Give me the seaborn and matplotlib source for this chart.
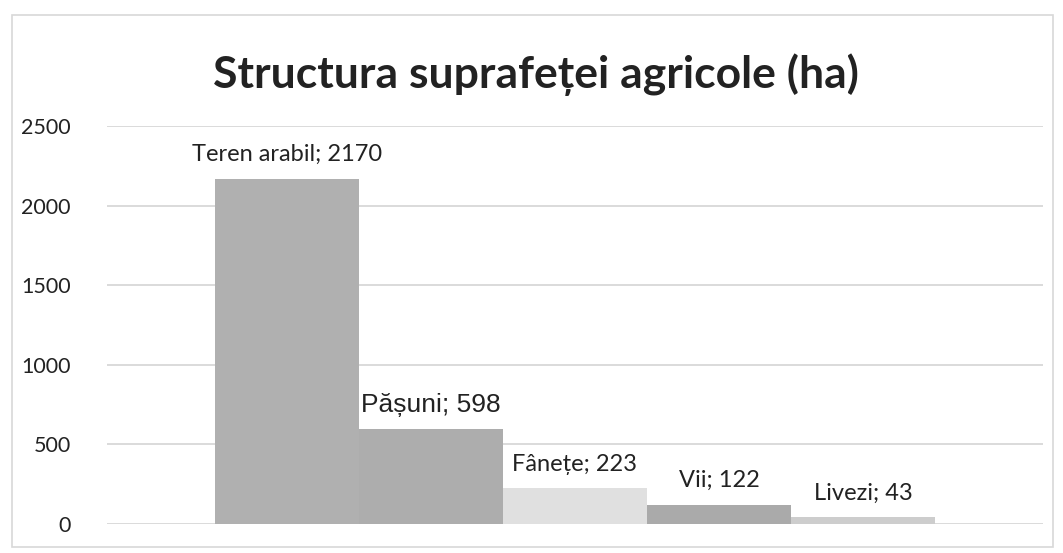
import numpy as np
import pandas as pd
import seaborn as sns
import matplotlib.pyplot as plt
from matplotlib.patches import Rectangle

# data
categories = ['Teren arabil', 'Pășuni', 'Fânețe', 'Vii', 'Livezi']
values = [2170, 598, 223, 122, 43]
bar_colors = ['#b0b0b0', '#adadad', '#e0e0e0', '#aaaaaa', '#cdcdcd']
yticks = [0, 500, 1000, 1500, 2000, 2500]

sns.set_style('white')
plt.rcParams['font.family'] = ['Lato', 'DejaVu Sans']

df = pd.DataFrame({'cat': categories, 'val': values})

fig = plt.figure(figsize=(10.63, 5.53), dpi=100)
ax = fig.add_axes([107/1063, 1-524/553, (1043-107)/1063, (524-126)/553])

sns.barplot(data=df, x='cat', y='val', hue='cat', palette=bar_colors,
            width=1.0, legend=False, ax=ax, saturation=1, zorder=3,
            linewidth=0)

ax.set_xlim(-1.25, 5.25)
ax.set_ylim(0, 2500)
ax.set_yticks(yticks)
ax.set_yticklabels([str(t) for t in yticks], fontsize=15.5, color='#222222')
ax.tick_params(axis='y', length=0, pad=26)
ax.set_xticks([])
ax.set_xlabel('')
ax.set_ylabel('')
ax.yaxis.grid(True, color='#d4d4d4', linewidth=1.2, zorder=0)
ax.set_axisbelow(True)
for s in ax.spines.values():
    s.set_visible(False)

# data labels "name; value"
for i, (c, v) in enumerate(zip(categories, values)):
    if c == 'Pășuni':
        fam, fs = ['Liberation Sans'], 19
    else:
        fam, fs = ['Lato', 'DejaVu Sans'], 17
    ax.annotate(f'{c}; {v}', xy=(i, v), xytext=(0, 24), textcoords='offset pixels',
                ha='center', va='center', fontsize=fs, color='#222222',
                family=fam)

fig.text(536/1063, 1-75/553, 'Structura suprafeței agricole (ha)',
         ha='center', va='center', fontsize=32, fontweight='bold', color='#222222')

# light frame round the chart area
fig.patches.append(Rectangle((12/1063, 1-547/553), (1053-12)/1063, (547-15)/553,
                             transform=fig.transFigure, fill=False,
                             edgecolor='#d8d8d8', linewidth=1.2))

fig.savefig('out.png', dpi=100)
